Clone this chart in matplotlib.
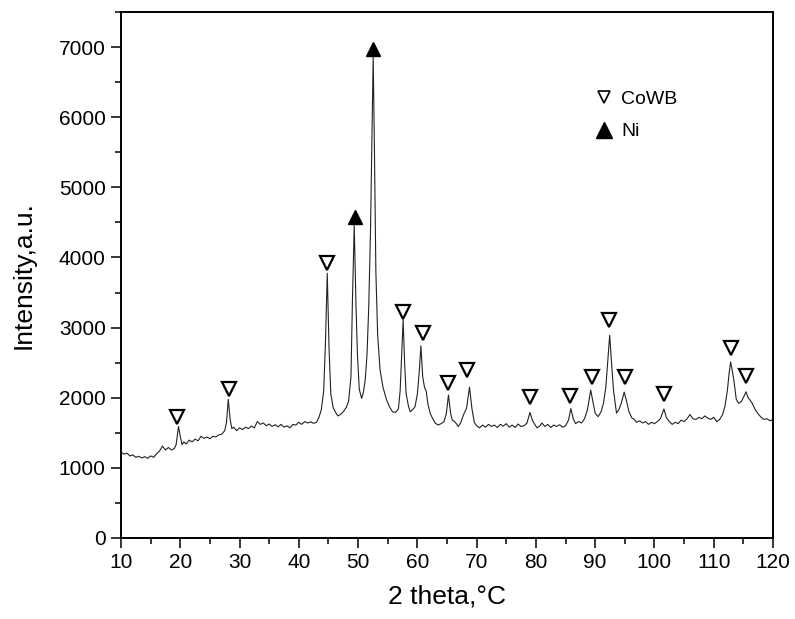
import matplotlib.pyplot as plt
from matplotlib.lines import Line2D
from matplotlib.ticker import MultipleLocator

plt.rcParams['font.family'] = ['Liberation Sans', 'DejaVu Sans']

# XRD pattern (2 theta in degrees, intensity in a.u.)
two_theta = [
    10.0, 10.5, 11.0, 11.5, 12.0, 12.5, 13.0, 13.5, 14.0, 14.5,
    15.0, 15.5, 16.0, 16.5, 17.0, 17.5, 18.0, 18.5, 19.0, 19.3,
    19.7, 20.0, 20.3, 20.6, 21.0, 21.5, 22.0, 22.5, 23.0, 23.5,
    24.0, 24.5, 25.0, 25.5, 26.0, 26.5, 27.0, 27.5, 27.8, 28.1,
    28.4, 28.7, 29.0, 29.5, 30.0, 30.5, 31.0, 31.5, 32.0, 32.5,
    33.0, 33.5, 34.0, 34.5, 35.0, 35.5, 36.0, 36.5, 37.0, 37.5,
    38.0, 38.5, 39.0, 39.5, 40.0, 40.5, 41.0, 41.5, 42.0, 42.5,
    43.0, 43.4, 43.8, 44.2, 44.5, 44.8, 45.1, 45.4, 45.8, 46.2,
    46.6, 47.0, 47.5, 48.0, 48.4, 48.8, 49.05, 49.35, 49.65, 49.9,
    50.2, 50.6, 50.9, 51.2, 51.5, 51.8, 52.1, 52.35, 52.55, 52.75,
    53.0, 53.3, 53.7, 54.2, 54.8, 55.3, 55.8, 56.3, 56.8, 57.1,
    57.35, 57.6, 57.85, 58.1, 58.5, 58.8, 59.2, 59.6, 60.0, 60.3,
    60.6, 60.9, 61.2, 61.5, 61.8, 62.2, 62.6, 63.0, 63.5, 64.0,
    64.5, 64.9, 65.25, 65.6, 65.9, 66.4, 66.9, 67.3, 67.8, 68.3,
    68.8, 69.2, 69.6, 70.0, 70.5, 71.0, 71.5, 72.0, 72.5, 73.0,
    73.5, 74.0, 74.5, 75.0, 75.5, 76.0, 76.5, 77.0, 77.5, 78.0,
    78.5, 79.0, 79.4, 79.8, 80.2, 80.7, 81.0, 81.5, 82.0, 82.5,
    83.0, 83.5, 84.0, 84.5, 85.0, 85.5, 85.9, 86.3, 86.7, 87.2,
    87.7, 88.2, 88.7, 89.25, 89.6, 90.0, 90.5, 91.0, 91.4, 91.8,
    92.1, 92.45, 92.8, 93.1, 93.6, 94.0, 94.4, 94.9, 95.3, 95.7,
    96.2, 96.6, 97.0, 97.5, 98.0, 98.5, 99.0, 99.5, 100.0, 100.5,
    101.0, 101.6, 102.0, 102.5, 103.0, 103.5, 104.0, 104.5, 105.0, 105.5,
    106.0, 106.5, 107.0, 107.5, 108.0, 108.5, 109.0, 109.5, 110.0, 110.5,
    111.0, 111.5, 111.9, 112.3, 112.6, 112.85, 113.1, 113.4, 113.8, 114.2,
    114.7, 115.1, 115.45, 115.8, 116.1, 116.5, 117.0, 117.5, 118.0, 118.5,
    119.0, 119.5, 120.0,
]
intensity = [
    1225, 1195, 1210, 1170, 1185, 1150, 1165, 1140, 1160, 1135,
    1170, 1150, 1200, 1240, 1310, 1255, 1290, 1255, 1275, 1330,
    1590, 1450, 1330, 1370, 1340, 1395, 1370, 1410, 1385, 1450,
    1420, 1440, 1415, 1450, 1440, 1470, 1480, 1530, 1650, 1975,
    1700, 1560, 1580, 1530, 1570, 1545, 1580, 1560, 1595, 1570,
    1660, 1620, 1640, 1600, 1625, 1590, 1615, 1585, 1620, 1580,
    1600, 1570, 1620, 1610, 1650, 1620, 1660, 1640, 1655, 1635,
    1650, 1720, 1830, 2100, 2800, 3775, 2700, 2050, 1860, 1790,
    1740, 1760, 1800, 1860, 1950, 2300, 3400, 4460, 3300, 2600,
    2120, 1990, 2080, 2250, 2600, 3300, 4400, 5800, 6870, 5600,
    3800, 2900, 2400, 2150, 1970, 1870, 1800, 1790, 1840, 2100,
    2600, 3110, 2500, 2060, 1880, 1800, 1830, 1870, 2050, 2350,
    2740, 2300, 2150, 2090, 1900, 1770, 1700, 1640, 1610, 1630,
    1660, 1780, 2040, 1780, 1680, 1650, 1590, 1640, 1760, 1850,
    2150, 1850, 1650, 1600, 1570, 1610, 1580, 1620, 1590, 1610,
    1575, 1620, 1595, 1630, 1580, 1610, 1575, 1625, 1590, 1600,
    1640, 1790, 1680, 1620, 1570, 1600, 1640, 1590, 1620, 1575,
    1610, 1590, 1615, 1580, 1600, 1680, 1845, 1700, 1630, 1660,
    1640, 1700, 1830, 2110, 1950, 1780, 1730, 1800, 1920, 2150,
    2500, 2890, 2450, 2100, 1780, 1830, 1920, 2080, 1950, 1800,
    1710, 1690, 1650, 1670, 1640, 1660, 1620, 1650, 1630, 1660,
    1700, 1840, 1720, 1660, 1620, 1650, 1630, 1680, 1660, 1700,
    1760, 1700, 1690, 1720, 1700, 1740, 1710, 1690, 1720, 1660,
    1690, 1760, 1880, 2100, 2350, 2510, 2400, 2250, 1980, 1920,
    1950, 2020, 2085, 2000, 1970, 1920, 1830, 1770, 1720, 1690,
    1700, 1670, 1690,
]

# phase markers placed above the peaks
cowb_x = [19.5, 28.2, 44.8, 57.6, 60.9, 65.2, 68.4, 79.0, 85.8, 89.4,
          92.4, 95.0, 101.6, 112.9, 115.5]
cowb_y = [1725, 2125, 3920, 3220, 2920, 2210, 2390, 2010, 2025, 2295,
          3105, 2295, 2050, 2705, 2310]
ni_x = [49.4, 52.5]
ni_y = [4575, 6970]

fig = plt.figure(figsize=(7.95, 6.19), dpi=100)
ax = fig.add_axes([0.1522, 0.1309, 0.8201, 0.8497])

ax.plot(two_theta, intensity, color='#222222', lw=0.8)
ax.plot(cowb_x, cowb_y, ls='none', marker='v', ms=10, mfc='white',
        mec='black', mew=1.6)
ax.plot(ni_x, ni_y, ls='none', marker='^', ms=10, mfc='black',
        mec='black')

handles = [
    Line2D([], [], ls='none', marker='v', ms=9, mfc='white', mec='black', mew=1.2),
    Line2D([], [], ls='none', marker='^', ms=12, mfc='black', mec='black'),
]
ax.legend(handles, ['CoWB', 'Ni'], loc='upper left',
          bbox_to_anchor=(0.702, 0.884), frameon=False, fontsize=14,
          handlelength=0.8, handletextpad=0.5, labelspacing=0.75)

ax.set_xlim(10, 120)
ax.set_ylim(0, 7500)
ax.xaxis.set_major_locator(MultipleLocator(10))
ax.xaxis.set_minor_locator(MultipleLocator(5))
ax.yaxis.set_major_locator(MultipleLocator(1000))
ax.yaxis.set_minor_locator(MultipleLocator(500))
ax.tick_params(which='major', direction='out', length=7.5, width=1.1,
               labelsize=15, top=False, right=False)
ax.tick_params(which='minor', direction='out', length=4.5, width=1.1,
               top=False, right=False)
for s in ax.spines.values():
    s.set_linewidth(1.4)

ax.set_xlabel('2 theta,°C', fontsize=19, labelpad=9)
ax.set_ylabel('Intensity,a.u.', fontsize=19, labelpad=17)

fig.savefig('out.png', dpi=100)
